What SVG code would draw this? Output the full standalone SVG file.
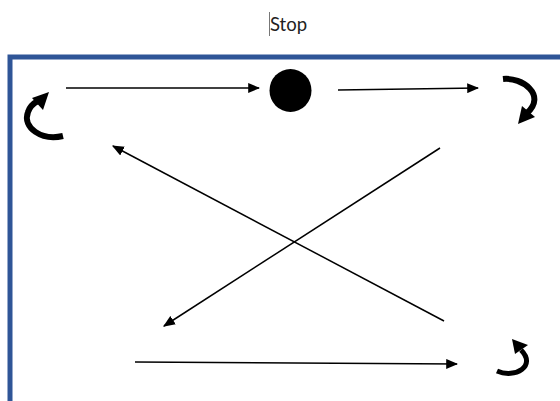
<svg xmlns="http://www.w3.org/2000/svg" width="560" height="401" viewBox="0 0 560 401">
<style>
.ln{stroke:#000;stroke-width:1.5;fill:none}
.cv{stroke:#000;fill:none;stroke-linecap:butt}
.hd{fill:#000}
</style>
<defs>
<marker id="ah2" viewBox="0 0 10 10" refX="9" refY="5" markerWidth="12" markerHeight="10" markerUnits="userSpaceOnUse" orient="auto" preserveAspectRatio="none">
<path d="M0,0 L10,5 L0,10 Z" fill="#000"/>
</marker>
</defs>
<rect width="560" height="401" fill="#fff"/>
<g id="title">
<line x1="269.5" y1="12" x2="269.5" y2="36" stroke="#777" stroke-width="1"/>
<text x="270" y="31" font-family="Lato, 'Open Sans', sans-serif" font-size="18.5" fill="#222">Stop</text>
</g>
<g id="frame">
<path d="M10,401 L10,57 L562,57" fill="none" stroke="#2f5597" stroke-width="5"/>
</g>
<g id="dot">
<ellipse cx="290.5" cy="90.5" rx="21" ry="21.5" fill="#000"/>
</g>
<g id="loop-left">
<path class="cv" stroke-width="6" d="M63,136 C42,141 22,128 28,112 C30,106 34,103 38,101"/>
<polygon class="hd" points="49,92 43,110 32,98"/>
</g>
<g id="loop-right-top">
<path class="cv" stroke-width="6" d="M503,79 C522,77 547,95 527,113"/>
<polygon class="hd" points="518,124 522,106 535,117"/>
</g>
<g id="loop-right-bottom">
<path class="cv" stroke-width="5" d="M497,371 C515,379 537,366 521,350"/>
<polygon class="hd" points="512,339 528,345 515,354"/>
</g>
<g id="connectors">
<line class="ln" x1="66" y1="88" x2="259" y2="88" marker-end="url(#ah2)"/>
<line class="ln" x1="338" y1="90" x2="478" y2="88" marker-end="url(#ah2)"/>
<line class="ln" x1="440" y1="148" x2="164" y2="326" marker-end="url(#ah2)"/>
<line class="ln" x1="444" y1="321" x2="113" y2="146" marker-end="url(#ah2)"/>
<line class="ln" x1="135" y1="362" x2="457" y2="364" marker-end="url(#ah2)"/>
</g>
</svg>
